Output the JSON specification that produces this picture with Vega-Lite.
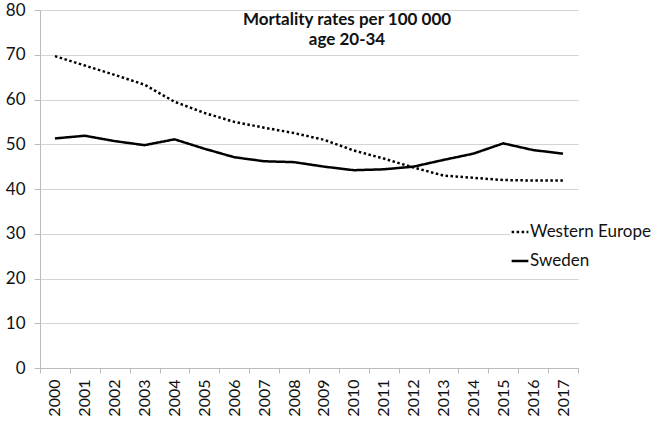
{
  "$schema": "https://vega.github.io/schema/vega-lite/v6.json",
  "width": 538,
  "height": 358,
  "autosize": "none",
  "padding": {"left": 40, "top": 10, "right": 80, "bottom": 55},
  "background": "white",
  "config": {"view": {"stroke": null}, "font": "Lato"},
  "title": {
    "text": ["Mortality rates per 100 000", "age 20-34"],
    "font": "Lato",
    "fontSize": 17,
    "fontWeight": "bold",
    "color": "#111",
    "anchor": "middle",
    "frame": "group",
    "dx": 38,
    "offset": -48,
    "lineHeight": 20
  },
  "data": {
    "values": [
      {"year": "2000", "series": "Western Europe", "rate": 69.7},
      {"year": "2001", "series": "Western Europe", "rate": 67.6},
      {"year": "2002", "series": "Western Europe", "rate": 65.5},
      {"year": "2003", "series": "Western Europe", "rate": 63.3},
      {"year": "2004", "series": "Western Europe", "rate": 59.5},
      {"year": "2005", "series": "Western Europe", "rate": 57.0},
      {"year": "2006", "series": "Western Europe", "rate": 55.0},
      {"year": "2007", "series": "Western Europe", "rate": 53.7},
      {"year": "2008", "series": "Western Europe", "rate": 52.5},
      {"year": "2009", "series": "Western Europe", "rate": 51.0},
      {"year": "2010", "series": "Western Europe", "rate": 48.6},
      {"year": "2011", "series": "Western Europe", "rate": 46.8},
      {"year": "2012", "series": "Western Europe", "rate": 44.8},
      {"year": "2013", "series": "Western Europe", "rate": 43.0},
      {"year": "2014", "series": "Western Europe", "rate": 42.5},
      {"year": "2015", "series": "Western Europe", "rate": 42.0},
      {"year": "2016", "series": "Western Europe", "rate": 41.9},
      {"year": "2017", "series": "Western Europe", "rate": 41.9},
      {"year": "2000", "series": "Sweden", "rate": 51.3},
      {"year": "2001", "series": "Sweden", "rate": 51.9},
      {"year": "2002", "series": "Sweden", "rate": 50.7},
      {"year": "2003", "series": "Sweden", "rate": 49.8},
      {"year": "2004", "series": "Sweden", "rate": 51.1},
      {"year": "2005", "series": "Sweden", "rate": 49.0},
      {"year": "2006", "series": "Sweden", "rate": 47.1},
      {"year": "2007", "series": "Sweden", "rate": 46.2},
      {"year": "2008", "series": "Sweden", "rate": 46.0},
      {"year": "2009", "series": "Sweden", "rate": 45.0},
      {"year": "2010", "series": "Sweden", "rate": 44.2},
      {"year": "2011", "series": "Sweden", "rate": 44.4},
      {"year": "2012", "series": "Sweden", "rate": 45.0},
      {"year": "2013", "series": "Sweden", "rate": 46.5},
      {"year": "2014", "series": "Sweden", "rate": 47.9},
      {"year": "2015", "series": "Sweden", "rate": 50.2},
      {"year": "2016", "series": "Sweden", "rate": 48.7},
      {"year": "2017", "series": "Sweden", "rate": 47.9}
    ]
  },
  "mark": {"type": "line", "color": "black", "strokeWidth": 2.5},
  "encoding": {
    "x": {
      "field": "year",
      "type": "ordinal",
      "scale": {"type": "band", "paddingInner": 0, "paddingOuter": 0},
      "axis": {
        "title": null,
        "labelAngle": -90,
        "labelFont": "Lato",
        "labelFontSize": 16,
        "labelColor": "#111",
        "labelAlign": "right",
        "labelBaseline": "middle",
        "labelPadding": 6,
        "tickBand": "extent",
        "tickColor": "#bbb",
        "tickSize": 5,
        "domainColor": "#bbb",
        "grid": false
      }
    },
    "y": {
      "field": "rate",
      "type": "quantitative",
      "scale": {"domain": [0, 80]},
      "axis": {
        "title": null,
        "values": [0, 10, 20, 30, 40, 50, 60, 70, 80],
        "labelFont": "Lato",
        "labelFontSize": 17,
        "labelColor": "#111",
        "labelPadding": 9,
        "tickColor": "#bbb",
        "tickSize": 6,
        "domainColor": "#bbb",
        "gridColor": "#d4d4d4",
        "gridWidth": 1
      }
    },
    "strokeDash": {
      "field": "series",
      "type": "nominal",
      "scale": {"domain": ["Western Europe", "Sweden"], "range": [[2.5, 2.5], [1, 0]]},
      "legend": {
        "title": null,
        "orient": "none",
        "legendX": 470,
        "legendY": 212,
        "symbolType": "stroke",
        "symbolSize": 280,
        "symbolStrokeColor": "black",
        "symbolStrokeWidth": 2.5,
        "labelFont": "Lato",
        "labelFontSize": 17,
        "labelColor": "#111",
        "labelOffset": 0,
        "rowPadding": 11,
        "fillColor": "white"
      }
    }
  }
}
